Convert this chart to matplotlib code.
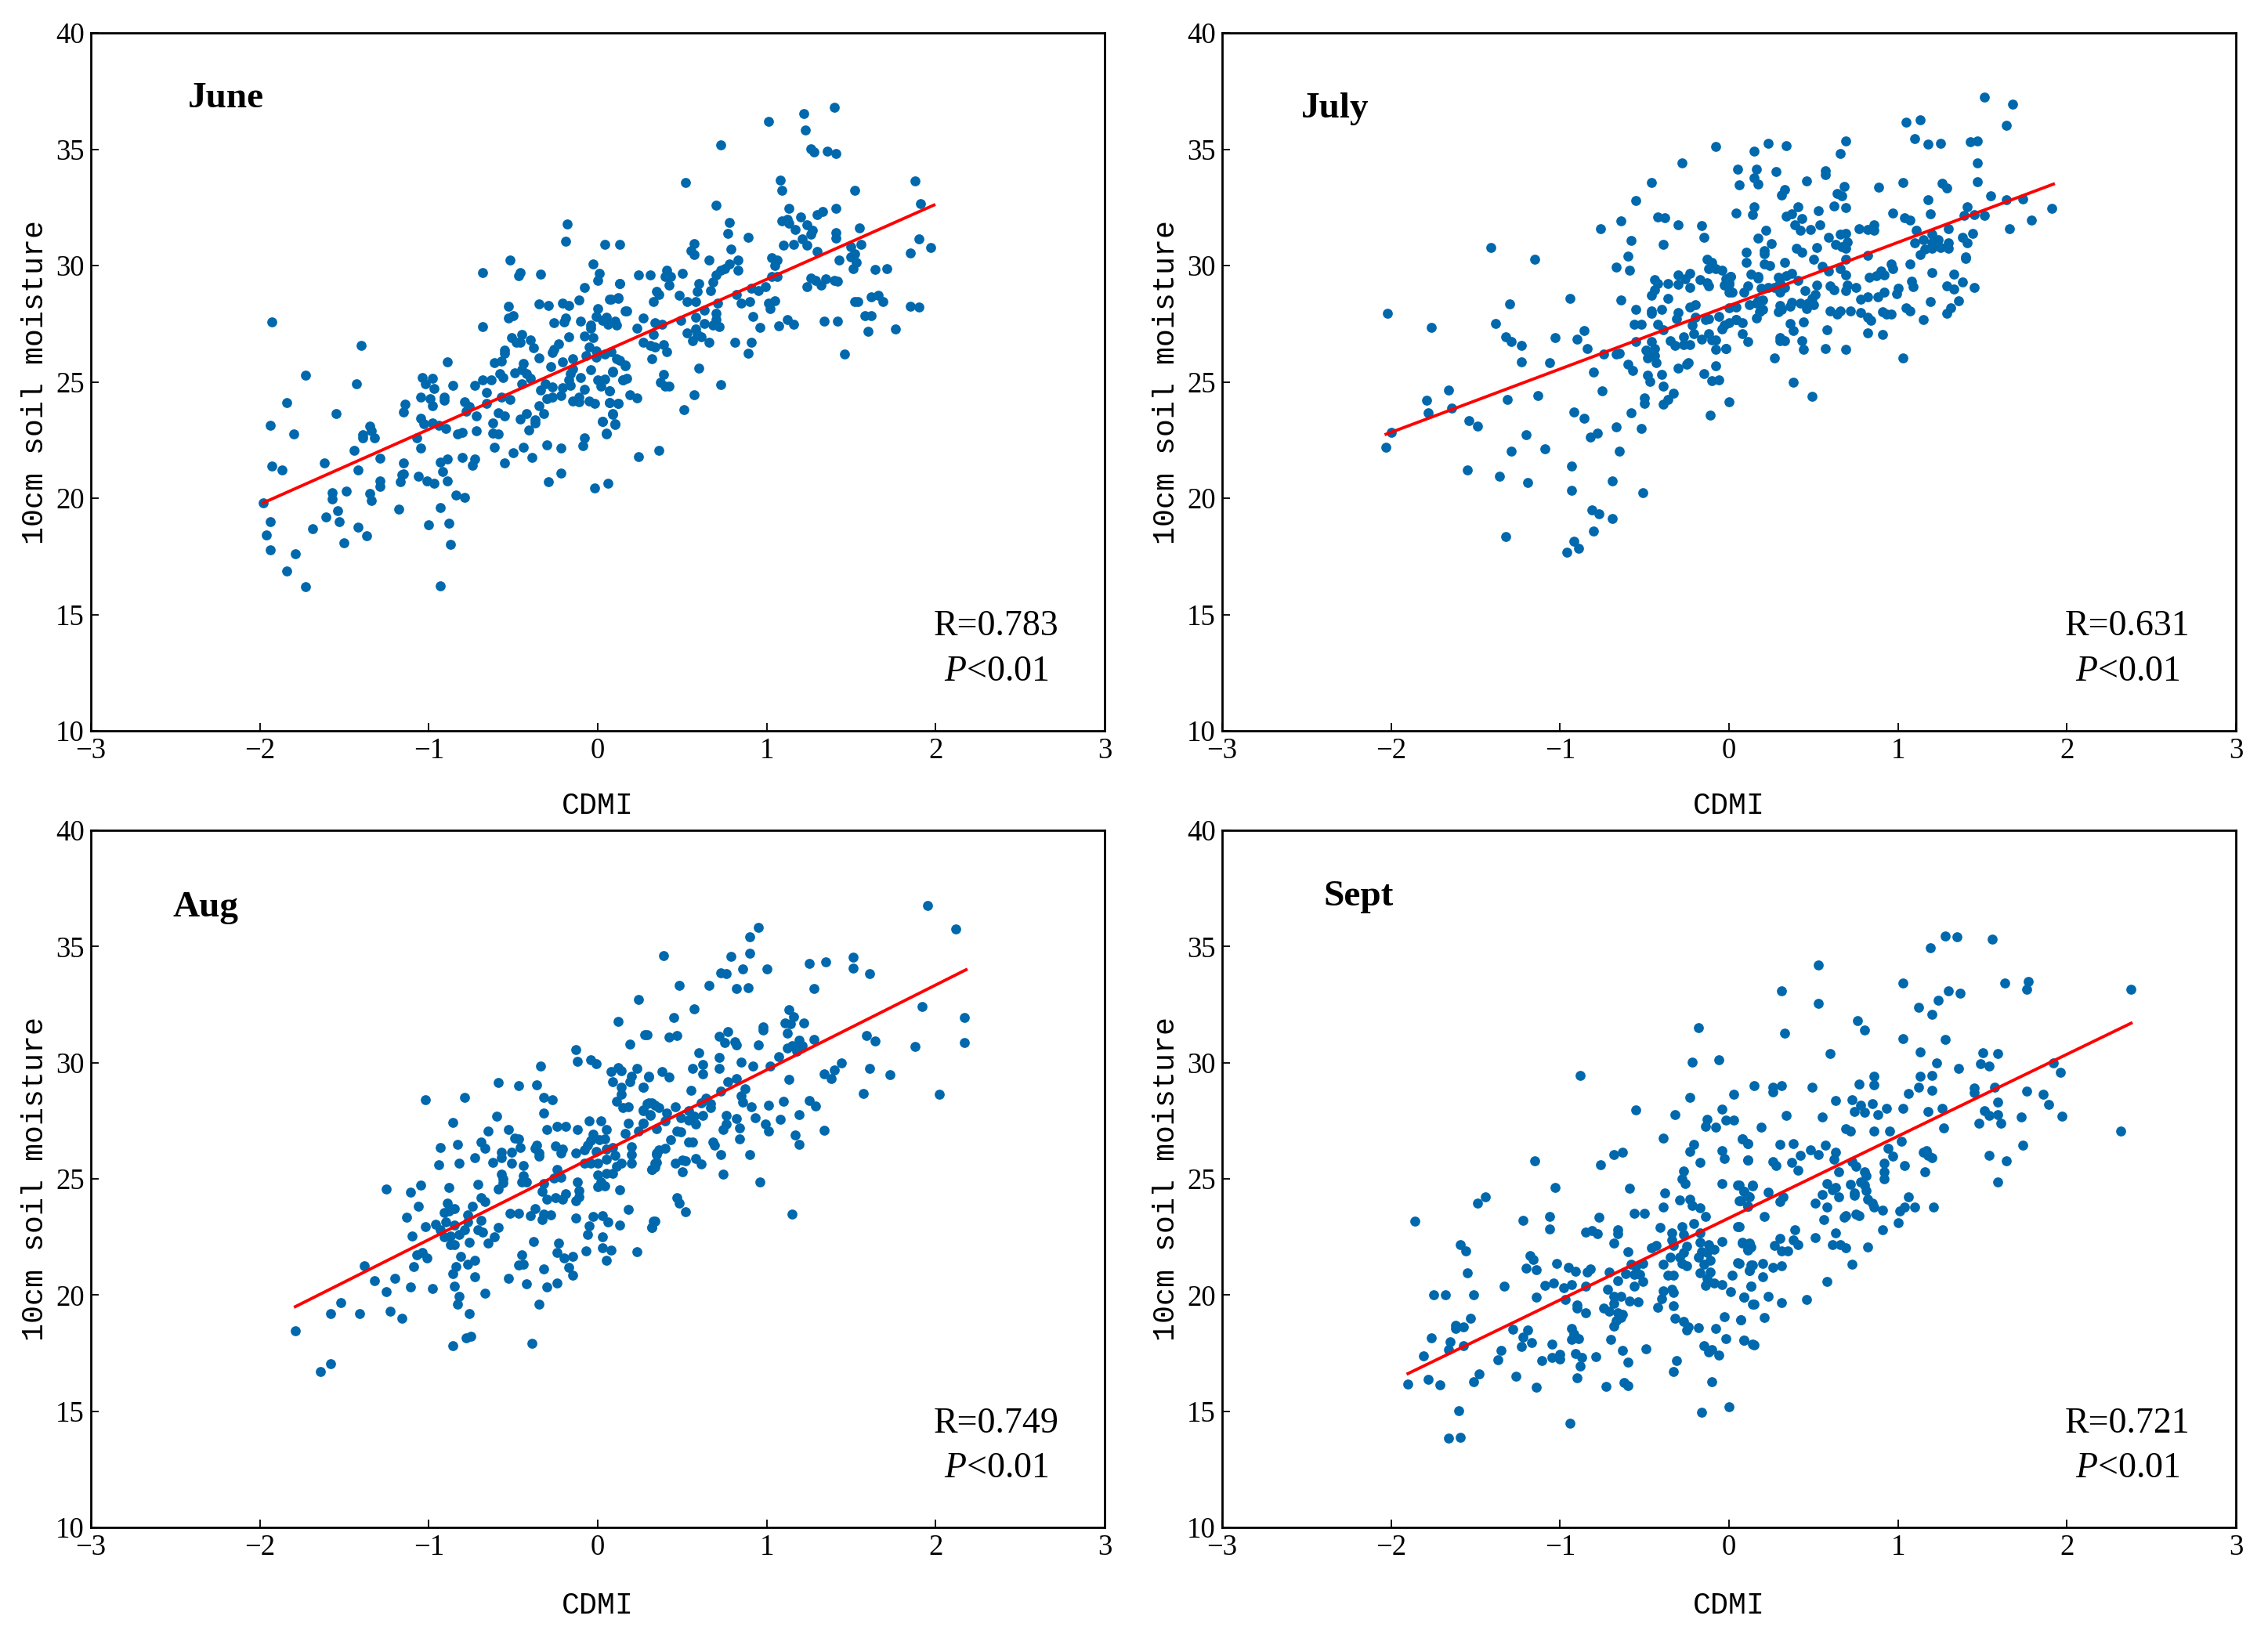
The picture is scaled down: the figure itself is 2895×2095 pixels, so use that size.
import matplotlib
matplotlib.use("Agg")
import matplotlib.pyplot as plt

plt.rcParams['font.family'] = ['Liberation Serif', 'DejaVu Serif']
plt.rcParams['mathtext.fontset'] = 'custom'
plt.rcParams['mathtext.it'] = 'Liberation Serif:italic'
plt.rcParams['mathtext.rm'] = 'Liberation Serif'

june_points = [
(-1.93,27.57),(-1.40,26.55),(-1.73,25.29),(-1.43,24.9),(-1.84,24.1),(-1.55,23.63),(-1.94,23.14),(-1.80,22.77),(-1.35,23.1),(-1.34,22.9),(-1.39,22.73),(-1.39,22.6),(-1.32,22.6),(-1.44,22.06),(-1.29,21.73),(-1.62,21.5),(-1.42,21.2),(-1.93,21.38),(-1.87,21.2),(-1.98,19.8),(-1.94,19.0),(-1.96,18.43),(-1.94,17.77),(-1.79,17.6),(-1.84,16.88),(-1.73,16.2),(-1.57,20.25),(-1.57,19.98),(-1.49,20.3),(-1.35,20.2),(-1.34,19.9),(-1.29,20.75),(-1.29,20.5),(-1.54,19.45),(-1.61,19.2),(-1.53,18.98),(-1.69,18.7),(-1.42,18.75),(-1.37,18.39),(-1.50,18.07),(-1.18,19.52),(-0.93,19.6),(-1.0,18.85),(-0.88,18.93),(-0.87,18.0),(-0.93,16.24),(-0.84,20.14),(-0.79,20.02),(-1.15,21.5),(-1.15,21.06),(-1.16,21.0),(-1.17,20.72),(-1.06,20.95),(-1.01,20.74),(-0.97,20.65),(-0.89,20.75),(-0.93,21.55),(-0.89,21.69),(-0.92,21.15),(-0.80,21.76),(-0.73,21.7),(-0.74,21.4),(-0.55,21.5),(-0.5,21.95),(-0.44,22.2),(-0.39,21.74),(-0.30,22.3),(-0.22,22.15),(-0.22,21.07),(-0.29,20.7),(-0.02,20.44),(0.06,20.64),(-0.08,22.6),(-0.09,22.24),(-0.61,22.2),(-0.62,22.79),(-0.59,22.75),(-0.72,22.9),(-0.83,22.75),(-0.8,22.83),(-1.07,22.6),(-1.05,22.15),(-0.9,23.0),(-0.94,23.12),(-0.98,23.22),(-1.03,23.2),(-1.05,23.42),(-1.15,23.72),(-1.14,24.03),(-1.05,24.33),(-0.99,24.27),(-0.98,23.96),(-0.91,24.34),(-0.91,24.2),(-0.79,24.13),(-0.76,23.93),(-0.78,23.75),(-0.72,23.52),(-0.66,24.07),(-0.66,24.55),(-0.62,23.24),(-0.59,23.67),(-0.55,23.54),(-0.46,23.4),(-0.42,23.63),(-0.37,23.36),(-0.37,23.24),(-0.41,22.94),(-0.32,23.63),(-0.35,23.96),(-0.52,24.23),(-0.57,24.33),(-0.86,24.84),(-1.04,25.2),(-0.98,25.15),(-1.02,24.9),(-0.97,24.72),(-0.89,25.85),(-0.73,24.86),(-0.68,25.08),(-0.63,25.1),(-0.58,25.36),(-0.56,25.18),(-0.61,25.83),(-0.57,25.9),(-0.55,26.38),(-0.55,26.24),(-0.49,25.39),(-0.44,25.8),(-0.45,25.53),(-0.42,25.36),(-0.40,25.14),(-0.45,24.93),(-0.31,24.9),(-0.34,24.63),(-0.27,24.77),(-0.30,24.26),(-0.27,24.33),(-0.22,24.41),(-0.21,24.76),(-0.16,24.84),(-0.17,25.08),(-0.16,25.36),(-0.15,25.57),(-0.28,25.67),(-0.35,26.02),(-0.38,26.46),(-0.4,26.8),(-0.45,27.03),(-0.51,26.9),(-0.48,26.69),(-0.46,26.69),(-0.68,27.37),(-0.53,28.25),(-0.50,27.86),(-0.53,27.76),(-0.68,29.7),(-0.52,30.22),(-0.46,29.7),(-0.47,29.55),(-0.34,29.63),(-0.18,31.77),(-0.19,31.03),(0.04,30.92),(0.13,30.92),(-0.03,30.07),(0.01,29.66),(0.0,29.37),(0.13,29.24),(-0.08,29.06),(-0.11,28.52),(-0.35,28.35),(-0.29,28.28),(-0.21,28.4),(-0.17,28.29),(-0.26,27.54),(-0.19,27.73),(-0.2,27.57),(-0.1,27.6),(0.0,28.15),(-0.01,27.8),(0.05,27.79),(0.03,27.64),(0.06,27.48),(0.1,27.6),(0.11,27.43),(-0.04,27.43),(-0.04,27.3),(-0.08,26.98),(-0.17,26.95),(-0.03,26.9),(0.08,28.54),(0.12,28.6),(0.16,28.04),(-0.23,26.64),(-0.26,26.4),(-0.27,26.27),(-0.21,25.85),(-0.15,26.0),(-0.07,26.14),(-0.05,26.49),(-0.01,26.34),(-0.01,26.06),(0.04,26.2),(0.08,26.3),(0.11,26.0),(0.13,25.92),(0.16,25.7),(-0.04,25.53),(-0.1,25.19),(-0.08,24.69),(0.0,25.08),(0.04,25.11),(0.02,24.83),(0.07,24.6),(0.09,25.41),(0.15,25.07),(-0.11,24.35),(-0.15,24.17),(-0.11,24.13),(-0.05,24.17),(-0.02,24.06),(0.07,24.1),(0.12,24.06),(0.09,23.61),(0.03,23.29),(0.1,23.17),(0.05,22.77),
(1.01,36.18),(1.22,36.54),(1.40,36.79),(1.23,35.84),(0.73,35.18),(1.26,35.02),(1.28,34.88),(1.36,34.9),(1.41,34.83),(0.52,33.58),(1.08,33.67),(1.09,33.24),(1.52,33.24),(1.88,33.65),(1.91,32.67),(0.70,32.6),(1.13,32.45),(1.41,32.47),(1.33,32.33),(1.30,32.2),(1.2,32.08),(1.09,31.92),(1.12,32.0),(1.13,31.81),(1.24,31.76),(0.78,31.85),(1.17,31.56),(1.27,31.51),(1.26,31.35),(0.77,31.37),(1.41,31.4),(1.41,31.17),(0.89,31.2),(1.21,31.13),(1.55,31.63),(1.90,31.15),(1.1,30.88),(1.16,30.9),(1.24,30.88),(1.56,30.92),(1.5,30.8),(1.97,30.78),(0.57,30.94),(0.55,30.65),(0.57,30.47),(0.79,30.72),(1.3,30.62),(1.52,30.51),(1.85,30.53),(1.5,30.37),(1.53,30.15),(0.66,30.22),(0.83,30.22),(1.03,30.33),(1.06,30.22),(1.05,30.0),(0.78,30.06),(1.43,30.22),(1.51,29.85),(1.64,29.83),(1.71,29.87),(0.83,29.81),(0.73,29.81),(0.75,29.87),(0.70,29.58),(0.50,29.67),(0.24,29.6),(0.31,29.6),(0.41,29.81),(0.4,29.53),(0.43,29.53),(0.13,29.24),(0.42,29.17),(0.6,29.21),(0.68,29.28),(1.03,29.53),(1.06,29.53),(1.26,29.46),(1.29,29.37),(1.32,29.17),(1.35,29.44),(1.4,29.35),(1.42,29.33),(1.24,29.1),(0.91,29.03),(0.99,29.1),(0.95,28.92),(0.35,28.9),(0.36,28.76),(0.59,28.9),(0.67,28.92),(0.82,28.74),(0.07,28.55),(0.12,28.62),(0.33,28.46),(0.48,28.71),(0.53,28.46),(0.58,28.44),(0.71,28.4),(0.85,28.4),(0.9,28.44),(1.01,28.4),(1.05,28.49),(1.52,28.44),(1.54,28.46),(1.62,28.67),(1.66,28.71),(1.69,28.46),(1.85,28.26),(1.9,28.21),(0.17,28.05),(0.63,28.08),(1.02,28.15),(0.27,27.76),(0.58,27.78),(0.7,27.96),(0.92,27.8),(1.58,27.85),(1.62,27.85),(1.12,27.67),(0.23,27.3),(0.34,27.53),(0.38,27.48),(0.49,27.64),(0.63,27.51),(0.7,27.69),(0.68,27.44),(0.72,27.37),(0.96,27.35),(1.07,27.42),(1.16,27.48),(1.34,27.62),(1.42,27.62),(1.76,27.26),(1.6,27.17),(0.53,27.1),(0.58,27.26),(0.59,27.05),(0.61,26.92),(0.33,27.03),(0.27,26.71),(0.31,26.57),(0.39,26.6),(0.34,26.5),(0.41,26.3),(0.56,26.76),(0.66,26.71),(0.81,26.71),(0.91,26.69),(0.89,26.23),(1.46,26.19),(0.32,26.0),(0.16,25.73),(0.6,25.6),(0.09,25.44),(0.39,25.32),(0.15,25.1),(0.17,25.14),(0.37,25.0),(0.4,24.8),(0.42,24.82),(0.73,24.89),(0.57,24.44),(0.19,24.44),(0.23,24.32),(0.51,23.8),(0.24,21.8),(0.36,22.05),(0.12,24.07),(0.07,24.62),(0.07,24.12),(0.09,23.64),(0.03,23.3),(0.1,23.21),(0.05,22.8),
]
july_points = [
(-2.02,27.94),(-1.76,27.34),(-1.41,30.77),(-1.15,30.28),(-0.94,28.57),(-1.30,28.35),(-1.38,27.5),(-1.32,26.95),(-1.29,26.72),(-1.23,26.55),(-1.23,25.85),(-1.06,25.84),(-1.03,26.91),(-0.9,26.84),(-0.86,27.2),(-0.84,26.44),(-0.74,26.2),(-0.67,26.21),(-0.65,26.24),(-0.8,25.41),(-0.75,24.62),(-1.13,24.41),(-1.31,24.25),(-1.66,24.63),(-1.79,24.22),(-1.78,23.67),(-1.64,23.87),(-1.54,23.35),(-1.49,23.09),(-2.0,22.83),(-2.03,22.18),(-1.2,22.72),(-1.29,22.02),(-1.09,22.13),(-1.55,21.2),(-1.36,20.93),(-1.19,20.69),(-0.93,21.37),(-0.93,20.33),(-0.92,23.72),(-0.86,23.43),(-0.82,22.61),(-0.78,22.79),(-0.67,23.08),(-0.58,23.68),(-0.52,23.0),(-0.65,22.02),(-0.69,20.74),(-0.51,20.23),(-0.81,19.48),(-0.77,19.33),(-0.69,19.11),(-0.8,18.6),(-0.92,18.16),(-0.89,17.84),(-0.96,17.69),(-1.32,18.35),(-0.5,24.31),(-0.5,24.08),(-0.39,24.04),(-0.36,24.23),(-0.33,24.51),(-0.39,24.82),(-0.4,25.33),(-0.48,25.3),(-0.47,25.01),(-0.6,25.76),(-0.57,25.48),(-0.43,25.81),(-0.48,26.02),(-0.49,26.35),(-0.46,26.24),(-0.44,26.44),(-0.44,26.13),(-0.46,26.72),(-0.55,26.72),(-0.35,26.76),(-0.32,26.57),(-0.27,26.95),(-0.27,26.61),(-0.23,26.59),(-0.3,25.59),(-0.25,25.77),(-0.24,25.82),(-0.15,25.34),(-0.08,25.69),(-0.1,25.04),(-0.06,25.07),(0.0,24.15),(-0.11,23.56),(-0.08,26.4),(-0.02,26.42),(-0.08,26.79),(-0.16,26.84),(-0.12,27.06),(-0.1,26.79),(-0.21,27.06),(-0.56,27.49),(-0.52,27.47),(-0.42,27.46),(-0.39,27.24),(-0.55,28.1),(-0.46,28.06),(-0.46,27.95),(-0.4,28.1),(-0.31,27.72),(-0.3,27.98),(-0.23,28.23),(-0.2,28.32),(-0.2,27.78),(-0.22,27.45),(-0.14,27.68),(-0.12,27.71),(-0.06,27.8),(-0.04,27.27),(-0.03,27.45),(0.0,27.54),(0.04,27.68),(0.0,28.19),(-0.36,28.59),(-0.64,28.53),(-0.46,28.72),(-0.44,28.96),(-0.42,29.22),(-0.44,29.4),(-0.36,29.23),(-0.3,29.19),(-0.3,29.59),(-0.26,29.44),(-0.23,29.66),(-0.23,29.05),(-0.17,29.41),(-0.13,29.26),(-0.12,29.11),(-0.03,29.16),(0.0,29.26),(0.01,29.53),(-0.02,29.44),(0.0,28.85),(-0.13,30.27),(-0.1,30.15),(-0.12,29.85),(-0.08,29.85),(-0.04,29.81),(-0.67,29.92),(-0.59,29.81),(-0.6,30.41),(-0.58,31.07),(-0.76,31.57),(-0.64,31.92),(-0.55,32.78),(-0.46,33.57),(-0.28,34.42),(-0.08,35.11),(-0.42,32.09),(-0.38,32.07),(-0.3,31.76),(-0.39,30.92),(-0.16,31.73),(-0.15,31.2),
(1.51,37.23),(1.68,36.92),(1.64,36.03),(1.13,36.25),(1.05,36.17),(1.1,35.44),(1.18,35.23),(1.25,35.25),(1.43,35.32),(1.47,35.34),(1.47,34.42),(1.47,33.6),(0.23,35.26),(0.34,35.14),(0.15,34.92),(0.69,35.37),(0.66,34.81),(0.05,34.13),(0.16,34.15),(0.15,33.78),(0.17,33.5),(0.06,33.46),(0.28,34.05),(0.57,34.09),(0.57,33.89),(0.46,33.63),(0.33,33.28),(0.31,33.02),(0.68,33.39),(0.64,33.1),(0.67,33.0),(0.885,33.37),(1.03,33.56),(1.26,33.53),(1.29,33.35),(1.18,32.84),(1.55,33.0),(1.64,32.84),(1.74,32.86),(1.91,32.47),(1.79,31.96),(1.66,31.58),(1.41,32.53),(1.39,32.14),(1.45,32.18),(1.51,32.14),(1.19,32.23),(0.97,32.24),(1.04,32.07),(1.07,31.94),(0.69,32.49),(0.62,32.57),(0.53,32.36),(0.41,32.53),(0.37,32.23),(0.34,32.13),(0.15,32.51),(0.14,32.2),(0.04,32.24),(0.43,32.03),(0.39,31.75),(0.54,31.75),(0.42,31.53),(0.48,31.55),(0.22,31.5),(0.17,31.17),(0.25,30.95),(0.59,31.2),(0.66,31.35),(0.69,31.37),(0.77,31.58),(0.82,31.55),(0.86,31.76),(0.86,31.53),(1.11,31.53),(1.3,31.58),(1.2,31.36),(1.38,31.22),(1.44,31.39),(1.41,30.99),(1.1,30.99),(1.15,31.1),(1.2,30.98),(1.24,31.11),(1.3,30.99),(1.3,30.74),(1.25,30.77),(1.2,30.74),(1.16,30.7),(1.13,30.48),(0.63,30.91),(0.7,31.0),(0.67,30.8),(0.69,30.73),(0.4,30.73),(0.43,30.58),(0.52,30.76),(0.5,30.28),(0.1,30.58),(0.21,30.63),(0.21,30.5),(0.1,30.15),(0.21,30.08),(0.24,30.0),(0.33,30.15),(0.69,30.28),(0.82,30.44),(1.4,30.38),(1.4,30.3),(1.07,30.07),(0.96,30.08),(0.97,29.85),(0.9,29.77),(0.92,29.6),(0.87,29.57),(0.83,29.49),(0.69,29.59),(0.66,29.86),(0.59,29.77),(0.55,29.97),(0.37,29.67),(0.34,29.57),(0.29,29.49),(0.41,29.37),(1.2,29.71),(1.33,29.64),(1.08,29.34),(1.09,29.09),(1.38,29.29),(1.29,29.11),(1.33,28.98),(1.45,29.05),(1.36,28.5),(1.19,28.46),(1.31,28.17),(1.29,27.95),(1.15,27.69),(1.05,28.17),(1.07,28.06),(0.91,28.02),(0.93,27.9),(0.96,27.91),(0.82,28.64),(0.78,28.56),(0.88,28.65),(0.92,28.87),(1.0,29.04),(0.99,28.79),(0.75,29.05),(0.7,29.15),(0.69,28.92),(0.6,29.12),(0.62,28.97),(0.52,29.15),(0.51,28.75),(0.45,28.92),(0.49,28.57),(0.47,28.37),(0.5,28.3),(0.46,28.16),(0.42,28.39),(0.37,28.41),(0.36,28.26),(0.3,28.27),(0.31,28.1),(0.29,28.0),(0.6,28.04),(0.64,27.91),(0.66,28.06),(0.72,28.06),(0.78,27.98),(0.82,27.78),(0.84,27.64),(0.82,27.12),(0.91,27.03),(1.03,26.02),(0.58,27.25),(0.44,27.56),(0.36,27.5),(0.38,27.2),(0.43,26.77),(0.44,26.39),(0.57,26.42),(0.69,26.39),(0.3,26.91),(0.3,26.77),(0.33,26.77),(0.27,26.04),(0.38,24.97),(0.49,24.38),(0.11,26.72),(0.08,27.06),(-0.02,26.43),(0.08,27.54),(0.04,27.68),(0.16,27.76),(0.2,28.13),(0.18,28.02),(0.12,28.32),(0.16,28.37),(0.04,28.22),(0.2,28.53),(0.17,28.5),(0.09,28.85),(0.02,28.85),(0.11,29.12),(0.19,29.01),(0.23,29.05),(0.27,29.05),(0.3,28.87),(0.33,29.05),(0.3,29.26),(0.17,29.46),(0.13,29.62),(0.17,29.53),(0.01,29.53),(0.0,29.19),
]
aug_points = [
(-1.79,18.47),(-1.64,16.72),(-1.58,17.04),(-1.58,19.21),(-1.52,19.68),(-1.41,19.21),(-1.23,19.29),(-1.16,18.99),(-1.32,20.62),(-1.38,21.26),(-1.25,20.16),(-1.2,20.73),(-1.11,20.34),(-0.98,20.29),(-1.09,21.23),(-1.07,21.73),(-1.04,21.84),(-1.01,21.58),(-1.25,24.56),(-1.11,24.44),(-1.05,24.74),(-1.06,23.83),(-1.13,23.35),(-1.02,22.94),(-1.1,22.54),(-0.96,23.05),(-1.02,28.4),(-0.79,28.5),(-0.86,27.42),(-0.93,26.34),(-0.83,26.49),(-0.94,25.62),(-0.82,25.68),(-0.88,24.63),(-0.89,23.97),(-0.85,23.72),(-0.91,23.56),(-0.88,23.63),(-0.9,23.15),(-0.93,22.8),(-0.85,23.0),(-0.91,22.5),(-0.87,22.53),(-0.87,22.18),(-0.85,22.16),(-0.82,22.61),(-0.79,22.8),(-0.77,23.46),(-0.77,23.15),(-0.74,23.82),(-0.71,24.76),(-0.69,23.23),(-0.71,22.8),(-0.68,22.71),(-0.76,22.28),(-0.65,22.25),(-0.61,22.5),(-0.59,22.9),(-0.81,21.67),(-0.84,21.22),(-0.86,20.92),(-0.77,21.32),(-0.73,21.48),(-0.73,20.77),(-0.85,20.37),(-0.82,19.95),(-0.83,19.61),(-0.76,19.21),(-0.67,20.09),(-0.75,18.24),(-0.78,18.17),(-0.86,17.82),(-0.69,24.18),(-0.67,24.01),(-0.59,24.56),(-0.56,24.84),(-0.57,25.21),(-0.56,25.0),(-0.51,25.66),(-0.62,25.7),(-0.73,25.9),(-0.57,25.9),(-0.57,26.13),(-0.51,26.16),(-0.46,26.35),(-0.69,26.58),(-0.67,26.31),(-0.65,27.04),(-0.6,27.69),(-0.53,27.12),(-0.49,26.75),(-0.47,26.71),(-0.59,29.16),(-0.47,29.02),(-0.36,29.06),(-0.34,29.86),(-0.32,28.52),(-0.27,28.41),(-0.32,27.82),(-0.3,27.11),(-0.24,27.26),(-0.19,27.27),(-0.12,27.11),(-0.13,30.57),(-0.12,30.04),(-0.04,30.12),(-0.01,29.95),(0.12,31.76),(0.19,30.79),(0.24,32.73),(0.28,31.2),(0.08,29.61),(0.12,29.79),(0.14,29.64),(0.23,29.76),(0.2,29.43),(0.19,29.18),(0.3,29.4),(0.09,29.17),(0.14,28.96),(0.27,28.95),(0.14,28.65),(0.11,28.35),(0.15,28.08),(0.18,28.11),(0.3,28.28),(0.27,27.96),(0.31,27.75),(0.34,28.17),(-0.05,27.51),(0.02,27.51),(0.05,27.12),(0.18,27.38),(0.27,27.41),(0.16,26.94),(0.24,27.07),(-0.03,26.93),(-0.04,26.65),(0.01,26.67),(0.04,26.72),(-0.06,26.45),(-0.08,26.24),(-0.13,26.12),(-0.25,26.42),(-0.21,26.27),(-0.22,26.1),(-0.36,26.45),(-0.37,26.3),(-0.35,26.1),(-0.35,25.97),(-0.44,25.58),(-0.44,25.14),(-0.45,24.87),(-0.42,24.87),(-0.32,24.8),(-0.33,24.45),(-0.3,24.12),(-0.25,24.2),(-0.21,24.12),(-0.19,24.36),(-0.24,25.39),(-0.26,25.03),(-0.22,25.06),(-0.12,24.88),(-0.11,24.48),(-0.11,24.22),(-0.13,24.07),(-0.52,23.5),(-0.47,23.5),(-0.4,23.43),(-0.37,23.72),(-0.32,23.49),(-0.33,23.26),(-0.28,23.46),(-0.13,23.32),(-0.03,23.37),(0.03,23.41),(0.06,23.16),(-0.05,22.97),(-0.06,22.62),(0.03,22.5),(-0.38,22.31),(-0.23,22.24),(-0.45,21.73),(-0.44,21.34),(-0.47,21.3),(-0.24,21.83),(-0.2,21.61),(-0.15,21.67),(-0.07,21.91),(0.03,22.02),(0.08,21.93),(0.05,21.48),(-0.32,21.12),(-0.17,21.18),(-0.15,20.86),(-0.53,20.73),(-0.42,20.49),(-0.3,20.34),(-0.24,20.52),(-0.35,19.61),(-0.39,17.93),(0.13,24.53),(0.18,23.68),(0.13,23.01),(0.33,23.19),(0.32,22.91),(0.23,21.85),(-0.08,25.69),(-0.04,25.69),(0.0,25.69),(-0.01,26.17),(0.05,26.27),(0.09,26.34),(0.1,26.01),(0.05,25.83),(0.14,25.69),(0.11,25.55),(0.0,25.17),(0.05,25.24),(0.09,25.24),(0.02,24.87),(0.0,24.65),(0.04,24.7),(0.2,26.38),(0.2,26.03),(0.2,25.68),(0.32,25.42),(0.34,25.69),(0.35,26.1),
(1.95,36.75),(2.12,35.76),(0.95,35.81),(0.9,35.4),(0.9,34.7),(0.79,34.57),(0.39,34.59),(0.86,34.05),(1.0,34.04),(0.73,33.87),(0.76,33.82),(0.48,33.32),(0.66,33.33),(0.82,33.18),(0.89,33.24),(1.25,34.27),(1.35,34.34),(1.51,34.55),(1.51,34.08),(1.61,33.82),(1.28,33.18),(0.57,32.32),(0.45,31.96),(1.13,32.29),(1.16,31.97),(1.11,31.71),(1.14,31.66),(1.22,31.7),(0.98,31.55),(0.98,31.42),(1.12,31.26),(0.29,31.2),(0.42,31.11),(0.47,31.17),(0.72,31.15),(0.77,31.33),(0.75,30.86),(0.81,30.9),(0.82,30.76),(0.95,30.78),(1.19,30.98),(1.28,31.0),(1.12,30.62),(1.15,30.72),(1.18,30.69),(1.21,30.72),(1.18,30.49),(0.6,30.42),(1.07,30.25),(0.72,30.24),(0.85,30.03),(0.92,29.84),(1.02,29.85),(0.62,29.91),(0.56,29.76),(0.72,29.76),(0.62,29.5),(0.38,29.62),(0.42,29.39),(0.3,29.39),(0.27,28.95),(0.77,29.18),(0.82,29.3),(1.13,29.28),(1.34,29.5),(1.4,29.68),(1.38,29.33),(1.44,29.98),(1.59,31.17),(1.64,30.94),(1.92,32.41),(2.17,31.93),(2.17,30.86),(1.88,30.71),(1.61,29.74),(1.73,29.47),(1.57,28.69),(2.02,28.64),(0.55,28.8),(0.73,28.77),(0.87,28.88),(0.85,28.58),(0.86,28.29),(0.64,28.47),(0.61,28.27),(0.67,28.25),(0.67,28.08),(0.91,28.09),(1.01,28.18),(1.1,28.33),(1.25,28.38),(1.29,28.15),(1.19,27.75),(1.08,27.57),(0.93,27.64),(0.82,27.6),(0.76,27.72),(0.62,27.74),(0.46,28.11),(0.54,27.94),(0.57,27.71),(0.54,27.53),(0.58,27.37),(0.49,27.64),(0.41,27.82),(0.4,27.49),(0.35,27.16),(0.31,27.74),(0.36,28.08),(0.32,28.26),(0.29,28.25),(0.27,27.94),(0.27,27.39),(0.99,27.37),(0.76,27.37),(0.74,27.12),(0.84,27.19),(0.84,26.72),(1.01,27.04),(1.17,26.9),(1.19,26.48),(1.34,27.08),(0.47,27.05),(0.49,27.02),(0.43,26.68),(0.54,26.57),(0.56,26.57),(0.68,26.58),(0.69,26.46),(0.4,26.33),(0.36,26.25),(0.35,26.06),(0.73,26.03),(0.9,26.03),(0.58,25.89),(0.61,25.65),(0.46,25.69),(0.5,25.8),(0.52,25.77),(0.35,25.7),(0.32,25.41),(0.34,25.51),(0.5,25.31),(0.74,25.19),(0.96,24.85),(0.47,24.2),(0.48,23.94),(0.52,23.6),(1.15,23.49),(0.34,23.17),(0.32,22.91),
]
sept_points = [
(-0.18,31.51),(-0.22,30.01),(-0.06,30.11),(-0.88,29.46),(-0.23,28.49),(0.03,28.65),(-0.55,27.96),(-0.32,27.76),(-0.04,27.99),(-0.13,27.55),(-0.14,27.25),(-0.08,27.22),(-0.02,27.54),(0.03,27.54),(-0.39,26.75),(0.08,26.71),(0.11,26.5),(-0.21,26.48),(-0.23,26.19),(-0.04,26.2),(-0.03,25.86),(-0.17,25.71),(0.11,25.82),(-0.68,26.05),(-0.63,26.15),(-0.76,25.61),(-1.15,25.79),(-0.27,25.35),(-0.28,25.01),(-0.26,24.79),(-0.04,24.8),(0.05,24.73),(0.14,24.73),(-1.03,24.64),(-0.59,24.61),(-0.38,24.39),(-0.29,24.09),(-0.23,24.11),(0.09,24.46),(0.11,24.25),(0.06,24.07),(0.11,23.81),(-1.44,24.22),(-1.49,23.97),(-1.86,23.18),(-0.39,23.8),(-0.22,23.84),(-0.17,23.74),(-0.14,23.37),(-0.21,23.08),(-0.56,23.53),(-0.5,23.51),(-0.77,23.36),(-1.06,23.38),(-1.22,23.22),(-1.06,22.85),(-0.85,22.71),(-0.81,22.76),(-0.78,22.64),(-0.66,22.81),(-0.66,22.64),(-0.68,22.23),(-0.41,22.9),(-0.28,22.94),(0.05,22.94),(-0.34,22.67),(-0.27,22.6),(-0.17,22.67),(-0.34,22.37),(-0.17,22.26),(-0.04,22.3),(0.08,22.26),(0.12,22.21),(0.11,21.95),(-1.59,22.16),(-1.56,21.9),(-0.6,21.88),(-0.46,22.02),(-0.43,22.12),(-0.33,22.15),(-0.25,22.09),(-0.12,22.16),(-0.09,21.98),(-0.16,21.87),(-0.13,21.84),(-0.18,21.62),(-0.27,21.84),(-0.29,21.64),(-0.35,21.62),(-1.18,21.69),(-1.16,21.54),(-1.02,21.36),(-0.95,21.2),(-0.91,21.03),(-0.82,21.13),(-0.84,20.98),(-1.2,21.16),(-1.14,21.1),(-1.55,20.96),(-0.39,21.31),(-0.28,21.35),(-0.25,21.25),(-0.15,21.32),(-0.11,21.49),(0.05,21.39),(0.14,21.3),(0.12,21.06),(-0.58,21.32),(-0.55,21.22),(-0.51,21.36),(-0.71,20.98),(-0.61,20.92),(-0.56,20.88),(-0.53,20.88),(-0.36,20.87),(-0.33,20.87),(-0.17,20.94),(-0.11,20.98),(0.02,20.84),(-0.13,20.72),(-0.09,20.52),(-0.14,20.4),(-0.04,20.45),(0.13,20.39),(-0.66,20.63),(-0.51,20.59),(-0.56,20.39),(-1.33,20.37),(-1.09,20.43),(-1.04,20.52),(-0.98,20.32),(-0.93,20.45),(-0.85,20.37),(-0.72,20.26),(-0.39,20.17),(-0.34,20.26),(-0.33,20.12),(0.01,20.15),(-1.75,20.01),(-1.68,20.01),(-1.51,20.01),(-1.14,19.92),(-0.97,19.81),(-0.68,19.94),(-0.64,19.96),(-0.59,19.75),(-0.54,19.71),(-0.68,19.64),(-0.4,19.83),(0.09,19.92),(0.14,19.6),(-0.9,19.57),(-0.9,19.44),(-0.42,19.46),(-0.33,19.53),(-0.74,19.44),(-0.71,19.3),(-0.85,19.22),(-0.66,19.23),(-0.63,19.16),(-0.64,19.02),(-0.03,19.08),(0.07,18.94),(-0.32,18.99),(-1.53,19.01),(-0.67,18.89),(-0.68,18.65),(-0.27,18.86),(-0.24,18.64),(-0.25,18.5),(-0.18,18.61),(-0.08,18.57),(-1.62,18.68),(-1.62,18.56),(-1.57,18.64),(-1.28,18.53),(-1.19,18.51),(-0.93,18.56),(-0.92,18.34),(-1.22,18.18),(-1.76,18.17),(-0.93,18.1),(-0.89,18.12),(-0.7,18.09),(-0.02,18.13),(0.09,18.05),(0.14,17.88),(-1.65,17.99),(-1.57,17.83),(-1.66,17.65),(-1.17,17.94),(-1.23,17.79),(-1.05,17.9),(-1.35,17.63),(-0.49,17.69),(-0.63,17.61),(-0.15,17.81),(-0.1,17.66),(-0.12,17.54),(-0.06,17.4),(-0.91,17.48),(-1.0,17.44),(-1.05,17.3),(-1.0,17.24),(-1.11,17.19),(-0.87,17.33),(-0.79,17.35),(-1.81,17.39),(-1.37,17.22),(-0.6,17.1),(-0.31,17.18),(-0.88,16.93),(-0.33,16.71),(-1.48,16.62),(-1.51,16.27),(-1.26,16.51),(-1.78,16.36),(-1.9,16.18),(-1.71,16.12),(-0.9,16.44),(-1.14,16.05),(-0.73,16.07),(-0.62,16.23),(-0.6,16.09),(-0.1,16.26),(-1.6,15.03),(-0.16,14.94),(0.0,15.19),(-0.94,14.48),(-1.66,13.85),(-1.59,13.89),
(1.28,35.45),(1.35,35.42),(1.56,35.3),(1.19,34.94),(0.53,34.2),(1.77,33.5),(1.76,33.17),(1.63,33.43),(1.03,33.43),(0.31,33.09),(1.3,33.09),(1.37,32.98),(1.24,32.69),(0.53,32.55),(1.12,32.38),(1.2,32.08),(0.76,31.81),(0.8,31.41),(0.33,31.27),(1.03,31.05),(1.28,31.01),(0.6,30.4),(1.13,30.47),(1.5,30.43),(1.59,30.38),(1.23,30.0),(1.49,29.96),(1.54,29.84),(1.36,29.76),(1.92,29.98),(1.96,29.59),(0.86,29.41),(1.13,29.43),(1.2,29.44),(0.77,29.07),(0.86,29.05),(0.15,29.0),(0.26,28.93),(0.26,28.75),(0.31,29.0),(0.49,28.96),(1.12,28.96),(1.06,28.66),(1.2,28.8),(1.45,28.9),(1.45,28.71),(1.57,28.96),(1.76,28.79),(1.86,28.63),(0.63,28.37),(0.73,28.39),(0.78,28.17),(0.85,28.23),(1.59,28.3),(1.89,28.19),(0.93,28.05),(1.03,28.05),(1.26,28.04),(0.74,27.9),(0.8,27.85),(0.88,27.76),(1.18,27.9),(1.51,27.93),(1.54,27.73),(1.59,27.78),(1.73,27.67),(1.97,27.69),(0.34,27.73),(0.55,27.65),(0.19,27.24),(1.48,27.4),(1.61,27.39),(1.27,27.2),(0.69,27.16),(0.72,27.05),(0.86,27.07),(0.95,27.07),(0.08,26.72),(0.11,26.51),(0.3,26.48),(0.38,26.51),(0.57,26.44),(1.02,26.62),(1.74,26.45),(0.48,26.26),(0.94,26.33),(0.53,26.06),(0.63,26.13),(0.42,26.0),(0.97,25.99),(1.15,26.15),(1.17,26.21),(1.18,26.0),(1.2,25.92),(1.54,26.02),(0.62,25.84),(0.11,25.82),(0.26,25.74),(0.28,25.57),(0.37,25.71),(0.41,25.38),(0.73,25.73),(0.75,25.55),(0.92,25.67),(1.04,25.56),(1.64,25.77),(0.65,25.3),(0.8,25.29),(0.92,25.29),(1.16,25.3),(0.81,25.12),(0.92,25.0),(1.59,24.87),(0.58,24.79),(0.72,24.76),(0.78,24.85),(0.8,24.73),(0.14,24.71),(0.63,24.63),(0.61,24.52),(0.06,24.73),(0.09,24.46),(0.23,24.43),(0.81,24.49),(0.12,24.24),(0.32,24.21),(0.3,24.02),(0.55,24.31),(0.65,24.24),(0.74,24.39),(0.74,24.28),(1.06,24.21),(0.07,24.05),(0.11,23.83),(0.51,23.95),(0.82,24.13),(0.85,23.97),(0.58,23.77),(0.86,23.77),(0.91,23.64),(1.01,23.62),(1.04,23.77),(1.1,23.77),(1.21,23.79),(0.21,23.39),(0.69,23.43),(0.68,23.35),(0.75,23.48),(0.77,23.4),(0.56,23.25),(1.0,23.11),(0.06,22.95),(0.39,22.81),(0.91,22.82),(0.63,22.66),(0.3,22.45),(0.51,22.47),(0.38,22.37),(0.41,22.18),(0.27,22.14),(0.61,22.16),(0.66,22.16),(0.69,22.03),(0.82,22.08),(0.08,22.23),(0.12,22.23),(0.13,22.08),(0.11,21.94),(0.31,21.89),(0.35,21.89),(0.2,21.35),(0.13,21.3),(0.06,21.37),(0.12,21.06),(0.26,21.2),(0.31,21.26),(0.73,21.34),(0.2,20.8),(0.58,20.57),(0.13,20.38),(0.09,19.91),(0.23,19.95),(0.15,19.59),(0.31,19.67),(0.46,19.8),(0.21,19.05),(0.07,18.94),(0.09,18.05),(0.15,17.87),
(2.32,27.05),(2.38,33.15),
]

fit_x = [[-1.98, 1.99], [-2.03, 1.92], [-1.79, 2.18], [-1.90, 2.38]]
fit_y = [[19.8, 32.6], [22.75, 33.5], [19.5, 34.0], [16.62, 31.7]]
months = ['June', 'July', 'Aug', 'Sept']
r_labels = ['R=0.783', 'R=0.631', 'R=0.749', 'R=0.721']
p_label = r'$\mathit{P}$<0.01'
x_ticks = [-3, -2, -1, 0, 1, 2, 3]
x_tick_labels = ['\u22123', '\u22122', '\u22121', '0', '1', '2', '3']
y_ticks = [10, 15, 20, 25, 30, 35, 40]
all_points = [june_points, july_points, aug_points, sept_points]

W, H = 2895, 2095
fig = plt.figure(figsize=(W / 100, H / 100), dpi=100, facecolor='white')

boxes = [(116, 42, 1294, 891), (1560, 42, 1294, 891), (116, 1060, 1294, 890), (1560, 1060, 1294, 890)]
month_pos = [(0.096, 0.906), (0.078, 0.891), (0.081, 0.889), (0.100, 0.904)]
label_pads = [25, 25, 28, 28]

for i, (bx, by, bw, bh) in enumerate(boxes):
    ax = fig.add_axes([bx / W, 1 - (by + bh) / H, bw / W, bh / H])
    xs = [p[0] for p in all_points[i]]
    ys = [p[1] for p in all_points[i]]
    ax.scatter(xs, ys, s=84, color='#0068ad', linewidths=0, zorder=2)
    ax.plot(fit_x[i], fit_y[i], color='#ff0000', lw=2.8, zorder=3)
    ax.set_xlim(-3, 3)
    ax.set_ylim(10, 40)
    ax.set_xticks(x_ticks)
    ax.set_xticklabels(x_tick_labels)
    ax.set_yticks(y_ticks)
    ax.tick_params(direction='in', length=7, width=1.3, labelsize=26.5, top=False, right=False, pad=6)
    for s in ax.spines.values():
        s.set_linewidth(2.0)
    ax.set_xlabel('CDMI', family='Liberation Mono', fontsize=27.5, labelpad=label_pads[i])
    ax.set_ylabel('10cm soil moisture', family='Liberation Mono', fontsize=27.5, labelpad=6)
    ax.text(month_pos[i][0], month_pos[i][1], months[i], transform=ax.transAxes, fontsize=34,
            fontweight='bold', ha='left', va='center')
    ax.text(0.893, 0.149, r_labels[i], transform=ax.transAxes, fontsize=33, ha='center', va='center')
    ax.text(0.893, 0.085, p_label, transform=ax.transAxes, fontsize=33, ha='center', va='center')

fig.savefig('out.png', dpi=100, facecolor='white')
